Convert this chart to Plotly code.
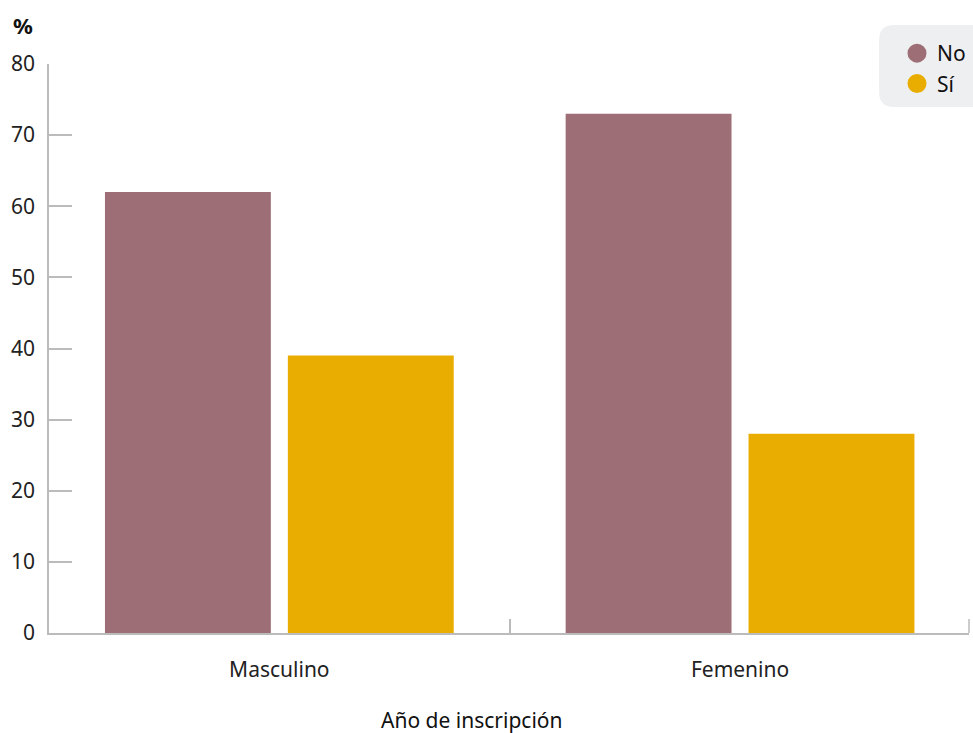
import plotly.graph_objects as go

categories = ["Masculino", "Femenino"]
series_names = ["No", "Sí"]
values_no = [62, 73]
values_si = [39, 28]
colors = ["#9d6e75", "#e8ad00"]
y_ticks = [0, 10, 20, 30, 40, 50, 60, 70, 80]

W, H = 973, 733
L, R, T, B = 49, 3, 64, 100
PW, PH = W - L - R, H - T - B

def px(xp):
    return (xp - L) / PW

def py(yp):
    return (H - B - yp) / PH

fig = go.Figure()
for name, vals, col in zip(series_names, [values_no, values_si], colors):
    fig.add_trace(go.Bar(x=categories, y=vals, name=name, marker_color=col,
                         marker_line_width=0, showlegend=False))
    fig.add_trace(go.Scatter(x=[None], y=[None], mode="markers", name=name,
                             marker=dict(symbol="circle", size=16, color=col,
                                         line=dict(color=col, width=3))))

x0, x1, ytop, ybot = px(880), px(990), py(25), py(107)
rx, ry = 15 / PW, 15 / PH
rect = (f"M {x0+rx} {ytop} L {x1} {ytop} L {x1} {ybot} L {x0+rx} {ybot} "
        f"Q {x0} {ybot} {x0} {ybot+ry} L {x0} {ytop-ry} "
        f"Q {x0} {ytop} {x0+rx} {ytop} Z")

fig.update_layout(
    width=W, height=H,
    margin=dict(l=L, r=R, t=T, b=B),
    paper_bgcolor="white", plot_bgcolor="white",
    font=dict(family="Noto Sans", size=20, color="#222"),
    barmode="group", bargap=0.206, bargroupgap=0.093,
    legend=dict(x=px(897), y=py(33), xanchor="left", yanchor="top",
                bgcolor="rgba(0,0,0,0)", font=dict(size=21, color="#111"),
                itemsizing="trace", itemwidth=30, tracegroupgap=0),
    xaxis=dict(range=[-0.5, 1.497], showline=True, linecolor="#bbbbbb",
               linewidth=1.5, ticks="inside", tickson="boundaries", ticklen=14,
               tickcolor="#bbbbbb", tickwidth=1.5, showgrid=False,
               tickfont=dict(size=21, color="#222"), ticklabelstandoff=17),
    yaxis=dict(range=[0, 80], tickvals=y_ticks, showline=True,
               linecolor="#bbbbbb", linewidth=1.5, ticks="inside",
               ticklen=23, tickcolor="#bbbbbb", tickwidth=1.5,
               showgrid=False, zeroline=False,
               tickfont=dict(size=21, color="#222"), ticklabelstandoff=8),
    shapes=[
        dict(type="path", xref="paper", yref="paper", layer="below",
             path=rect, fillcolor="#eeeff1", line=dict(width=0)),
        # closing boundary tick at the right end of the category axis
        dict(type="line", xref="paper", yref="paper", x0=1, x1=1,
             y0=0, y1=14 / PH, line=dict(color="#bbbbbb", width=1.5)),
    ],
    annotations=[
        dict(text="<b>%</b>", xref="paper", yref="paper", x=px(23), y=py(25),
             xanchor="center", yanchor="middle", showarrow=False,
             font=dict(size=22, color="#111")),
        dict(text="Año de inscripción", xref="paper", yref="paper",
             x=px(472), y=py(720), xanchor="center", yanchor="middle",
             showarrow=False, font=dict(size=21, color="#111")),
    ],
)

fig.write_html(
    "out.html",
    config={"displayModeBar": False},
    post_script="document.body.style.margin='0';"
                "document.body.style.overflow='hidden';",
)
